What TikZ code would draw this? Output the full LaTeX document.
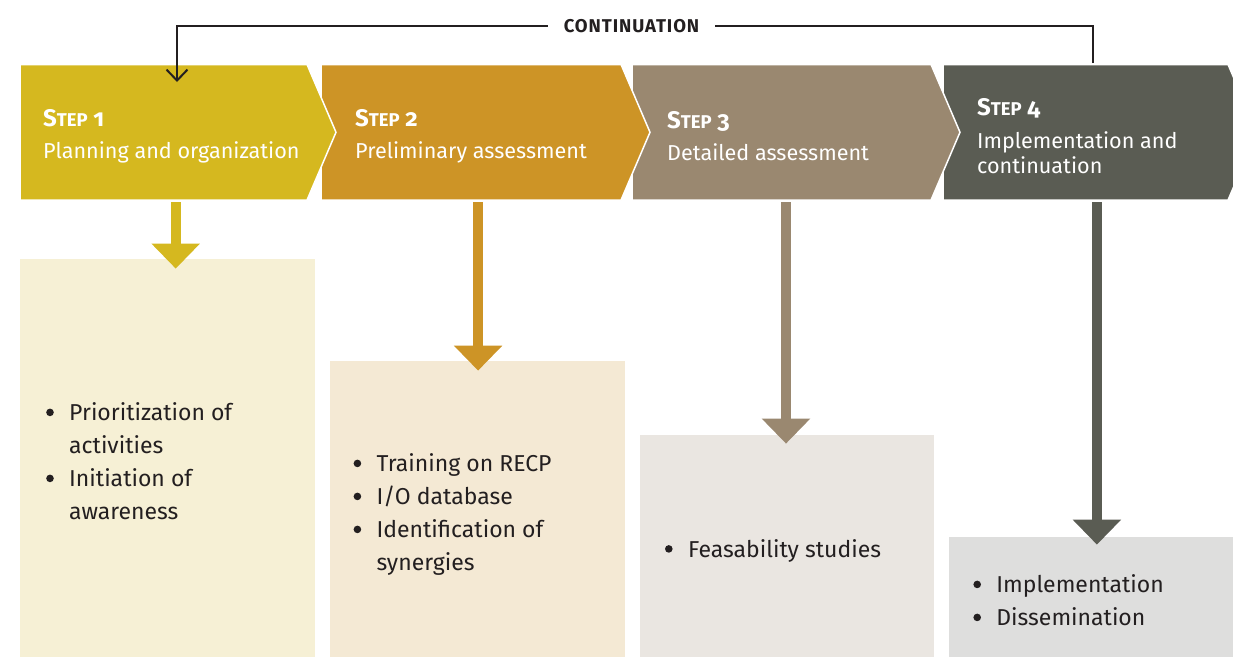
\documentclass[tikz,border=0pt]{standalone}
\usepackage{fontspec}
\setmainfont{Fira Sans}
\usetikzlibrary{positioning,calc,shapes.symbols,arrows.meta}

\definecolor{stepone}{HTML}{D5B81F}
\definecolor{steptwo}{HTML}{CD9426}
\definecolor{stepthree}{HTML}{9A8870}
\definecolor{stepfour}{HTML}{5A5C53}
\definecolor{boxone}{HTML}{F6F0D5}
\definecolor{boxtwo}{HTML}{F4E9D4}
\definecolor{boxthree}{HTML}{EAE6E1}
\definecolor{boxfour}{HTML}{DEDEDD}
\definecolor{inkgrey}{HTML}{231F20}

\newcommand{\stepno}[1]{{\bfseries\fontsize{24}{25}\selectfont S{\fontsize{18.5}{20}\selectfont TEP}\addfontfeature{Numbers=OldStyle}~#1}}
\newcommand{\bul}{\tikz[baseline=-8.5pt]\fill (0,0) circle[radius=3.8pt];}

\tikzset{
  chevron/.style={signal, signal to=east, signal pointer angle=133.7,
    draw=white, line width=1.5pt, minimum height=135.5pt, inner sep=0pt,
    outer sep=0pt},
  steptext/.style={text=white, align=left, inner sep=0pt, anchor=west,
    font=\fontsize{21.6}{25}\selectfont},
  infobox/.style={rectangle, inner sep=0pt, anchor=south west},
  itemtext/.style={text=inkgrey, inner sep=0pt, anchor=west,
    font=\fontsize{23}{33}\selectfont},
  flow/.style={line width=10pt, -{Triangle[width=47pt,length=25pt]}},
  loopline/.style={line width=2pt, draw=inkgrey},
  looplabel/.style={text=inkgrey, inner xsep=16pt, inner ysep=0pt,
    font=\bfseries\fontsize{18.5}{20}\selectfont\addfontfeature{LetterSpace=5}}
}

\begin{document}
\begin{tikzpicture}[x=1pt,y=-1pt]
  \useasboundingbox (0,0) rectangle (1233,657);
  \clip (0,0) rectangle (1233,657);

  % steps, right to left so that each tip lies over the next one
  \node[chevron, fill=stepfour, minimum width=314pt, anchor=west] (s4) at (943,132.25) {};
  \node[chevron, fill=stepthree, minimum width=328pt, left=-17pt of s4] (s3) {};
  \node[chevron, fill=steptwo, minimum width=329pt, left=-18pt of s3] (s2) {};
  \node[chevron, fill=stepone, minimum width=316pt, left=-15pt of s2] (s1) {};

  \node[steptext] (t1) at ([xshift=23pt,yshift=-4pt]s1.west) {\stepno{1}\\[7pt]Planning and organization};
  \node[steptext] (t2) at ([xshift=34pt,yshift=-4pt]s2.west) {\stepno{2}\\[7pt]Preliminary assessment};
  \node[steptext] (t3) at ([xshift=35pt,yshift=-4pt]s3.west) {\stepno{3}\\[7pt]Detailed assessment};
  \node[steptext] (t4) at ([xshift=34pt,yshift=-4pt]s4.west) {\stepno{4}\\[8pt]Implementation and\\continuation};

  % boxes below
  \node[infobox, fill=boxone, minimum width=295pt, minimum height=398pt] (b1) at (20,657) {};
  \node[infobox, fill=boxtwo, minimum width=295pt, minimum height=296pt, right=14pt of b1.south east, anchor=south west] (b2) {};
  \node[infobox, fill=boxthree, minimum width=294pt, minimum height=222pt, right=15pt of b2.south east, anchor=south west] (b3) {};
  \node[infobox, fill=boxfour, minimum width=295pt, minimum height=120pt, right=15pt of b3.south east, anchor=south west] (b4) {};

  \draw[flow, stepone] ($(b1.north |- s1.south)+(8,2)$) -- ([xshift=8pt,yshift=-10pt]b1.north);
  \draw[flow, steptwo] ($(b2.north |- s2.south)+(1,2)$) -- ([xshift=1pt,yshift=-10pt]b2.north);
  \draw[flow, stepthree] ($(b3.north |- s3.south)+(-1,2)$) -- ([xshift=-1pt,yshift=-9pt]b3.north);
  \draw[flow, stepfour] ($(b4.north |- s4.south)+(0,2)$) -- ([yshift=-8pt]b4.north);

  \node[itemtext] (l1) at ([xshift=26pt,yshift=-6pt]b1.west) {%
    \begin{tabular}{@{}p{23pt}@{}l@{}}
      \bul & Prioritization of\\
           & activities\\
      \bul & Initiation of\\
           & awareness
    \end{tabular}};
  \node[itemtext] (l2) at ([xshift=24pt,yshift=-6pt]b2.west) {%
    \begin{tabular}{@{}p{23pt}@{}l@{}}
      \bul & Training on RECP\\
      \bul & I/O database\\
      \bul & Identification of\\
           & synergies
    \end{tabular}};
  \node[itemtext] (l3) at ([xshift=25pt,yshift=-5pt]b3.west) {%
    \begin{tabular}{@{}p{23pt}@{}l@{}}
      \bul & Feasability studies
    \end{tabular}};
  \node[itemtext] (l4) at ([xshift=24pt,yshift=-6pt]b4.west) {%
    \begin{tabular}{@{}p{23pt}@{}l@{}}
      \bul & Implementation\\
      \bul & Dissemination
    \end{tabular}};

  % loop back from step 4 to step 1
  \node[looplabel] (cont) at (631.5,26) {CONTINUATION};
  \coordinate (loopout) at (1093,63);
  \coordinate (loopin) at (177,82);
  \draw[loopline] (loopout) |- (cont.east);
  \draw[loopline, -{Straight Barb[width=21pt,length=11pt]}] (cont.west) -| (loopin);
\end{tikzpicture}
\end{document}
